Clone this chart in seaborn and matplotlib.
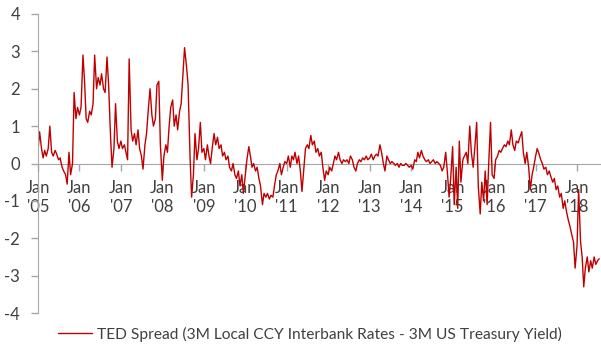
import numpy as np
import pandas as pd
import matplotlib
matplotlib.use("Agg")
import matplotlib.pyplot as plt
import seaborn as sns

# TED spread, semi-monthly readings (1st and 15th of each month), in percentage points
v2005 = [0.35, 0.85, 0.4, 0.15, 0.35, 0.2, 0.4, 1.0, 0.3, 0.2, 0.35, 0.25,
         0.1, 0.15, -0.1, -0.2, -0.3, -0.55, 0.3, -0.3, 0.0, 1.9, 1.2, 1.5]
v2006 = [1.3, 1.5, 2.9, 2.2, 1.2, 1.1, 1.4, 1.3, 1.6, 2.9, 2.0, 2.3,
         2.1, 2.4, 2.0, 1.9, 2.85, 2.1, 0.8, -0.1, 0.4, 1.6, 0.6, 0.4]
v2007 = [0.6, 0.4, 0.5, 0.3, 0.1, 2.8, 0.9, 0.6, 0.8, 0.5, 0.9, 0.4,
         0.2, -0.15, 0.5, 0.8, 1.5, 2.0, 1.3, 1.0, 1.2, 2.1, 2.2, 0.5]
v2008 = [-0.45, 0.2, 0.5, 0.3, 1.0, 1.5, 1.7, 1.0, 1.3, 0.9, 1.4, 1.6,
         2.4, 3.1, 2.6, 2.1, 0.2, -0.9, -0.3, 0.8, 0.1, 0.4, 1.1, 0.3]
v2009 = [0.4, 0.1, 0.5, 0.2, 0.0, 0.4, 0.8, 0.5, 0.7, 0.4, 0.5, 0.2,
         0.3, 0.1, 0.2, -0.1, -0.2, 0.0, -0.3, -0.4, -0.2, -0.6, -0.3, -0.8]
v2010 = [-0.3, 0.1, 0.45, 0.2, -0.1, 0.0, -0.2, -0.1, -0.4, -0.6, -1.1, -0.8,
         -0.9, -0.8, -0.95, -0.85, -0.9, -0.6, -0.3, -0.2, 0.0, -0.3, -0.1, 0.05]
v2011 = [0.0, 0.2, -0.1, 0.2, 0.1, 0.3, 0.0, 0.2, -0.2, -0.75, -0.1, 0.4,
         0.5, 0.4, 0.75, 0.5, 0.6, 0.3, 0.4, 0.2, 0.3, -0.1, -0.45, -0.2]
v2012 = [-0.3, -0.1, -0.2, 0.0, 0.2, 0.1, 0.3, 0.1, 0.0, 0.1, 0.05, 0.1,
         0.0, 0.2, 0.1, -0.1, -0.2, 0.0, 0.1, 0.05, 0.15, 0.1, 0.2, 0.1]
v2013 = [0.15, 0.25, 0.1, 0.2, 0.25, 0.2, 0.5, 0.3, 0.0, -0.2, 0.2, 0.1,
         0.0, 0.05, 0.0, -0.05, 0.0, -0.1, 0.0, -0.05, -0.05, 0.0, -0.05, -0.1]
v2014 = [-0.05, -0.15, 0.1, 0.05, 0.3, 0.15, 0.35, 0.2, 0.1, 0.05, 0.1, 0.0,
         0.05, 0.1, 0.0, 0.05, 0.0, -0.05, -0.2, -0.1, 0.3, -0.2, -0.9, -0.4]
v2015 = [0.45, -1.1, -0.1, -1.2, 0.6, -0.5, 0.1, 0.2, 0.3, 0.0, 1.0, 0.3,
         -0.1, 0.4, 1.1, -0.6, -1.35, -0.5, -1.0, -0.2, -1.1, 0.0, 1.1, -0.3]
v2016 = [-0.4, 0.1, 0.2, 0.35, 0.3, 0.4, 0.5, 0.45, 0.6, 0.5, 0.9, 0.5,
         0.35, 0.6, 0.55, 0.7, 0.85, 0.3, 0.0, 0.3, -0.1, -0.7, -0.3, -0.1]
v2017 = [0.2, 0.4, 0.25, 0.1, 0.0, -0.15, -0.1, -0.3, -0.2, -0.35, -0.5, -0.4,
         -0.7, -0.6, -0.9, -0.8, -1.2, -1.0, -1.3, -1.5, -1.7, -1.9, -2.1, -2.8]
v2018 = [-2.2, -0.7, -2.1, -2.5, -3.3, -2.8, -2.5, -2.9, -2.6, -2.8, -2.5, -2.7,
         -2.6, -2.55]

year_labels = ["Jan\n'05", "Jan\n'06", "Jan\n'07", "Jan\n'08", "Jan\n'09", "Jan\n'10", "Jan\n'11",
               "Jan\n'12", "Jan\n'13", "Jan\n'14", "Jan\n'15", "Jan\n'16", "Jan\n'17", "Jan\n'18"]
y_ticks = [4, 3, 2, 1, 0, -1, -2, -3, -4]
series_name = "TED Spread (3M Local CCY Interbank Rates - 3M US Treasury Yield)"

values = (v2005 + v2006 + v2007 + v2008 + v2009 + v2010 + v2011 + v2012 +
          v2013 + v2014 + v2015 + v2016 + v2017 + v2018)
dates = pd.date_range("2005-01-01", periods=len(values), freq="SMS")
df = pd.DataFrame({"date": dates, "spread": values})

sns.set_style("white")
plt.rcParams["font.family"] = ["Lato", "DejaVu Sans"]

fig = plt.figure(figsize=(6.01, 3.47), dpi=100)
ax = fig.add_axes([38 / 601, 34 / 347, 1 - 38 / 601, 299 / 347])

sns.lineplot(data=df, x="date", y="spread", ax=ax, color="#C00000",
             linewidth=1.0, label=series_name, legend=False)

ax.set_ylim(-4, 4)
ax.set_xlim(pd.Timestamp("2005-01-01"), pd.Timestamp("2018-07-31"))
ax.set_yticks(y_ticks)
ax.set_yticklabels([str(t) for t in y_ticks])

tick_dates = pd.date_range("2005-01-01", periods=len(year_labels), freq="YS")
ax.set_xticks(tick_dates)
ax.set_xticklabels(year_labels, linespacing=1.55)

grey = "#A6A6A6"
text_col = "#404040"
for side in ("top", "right"):
    ax.spines[side].set_visible(False)
ax.spines["left"].set_color(grey)
ax.spines["bottom"].set_color(grey)
ax.spines["bottom"].set_position(("data", 0))
ax.spines["bottom"].set_zorder(1)
ax.tick_params(axis="y", direction="out", length=5, color=grey, width=1,
               labelsize=12, labelcolor=text_col, pad=8, left=True)
ax.tick_params(axis="x", direction="out", length=5, color=grey, width=1,
               labelsize=12, labelcolor=text_col, pad=7, bottom=True)
ax.set_xlabel("")
ax.set_ylabel("")

handles, labels = ax.get_legend_handles_labels()
fig.legend(handles, labels, loc="center left", bbox_to_anchor=(58 / 601, 1 - 334 / 347),
           frameon=False, fontsize=11.2, labelcolor=text_col, handlelength=2.2,
           handletextpad=0.3, borderaxespad=0, borderpad=0)

fig.savefig("out.png", dpi=100)
